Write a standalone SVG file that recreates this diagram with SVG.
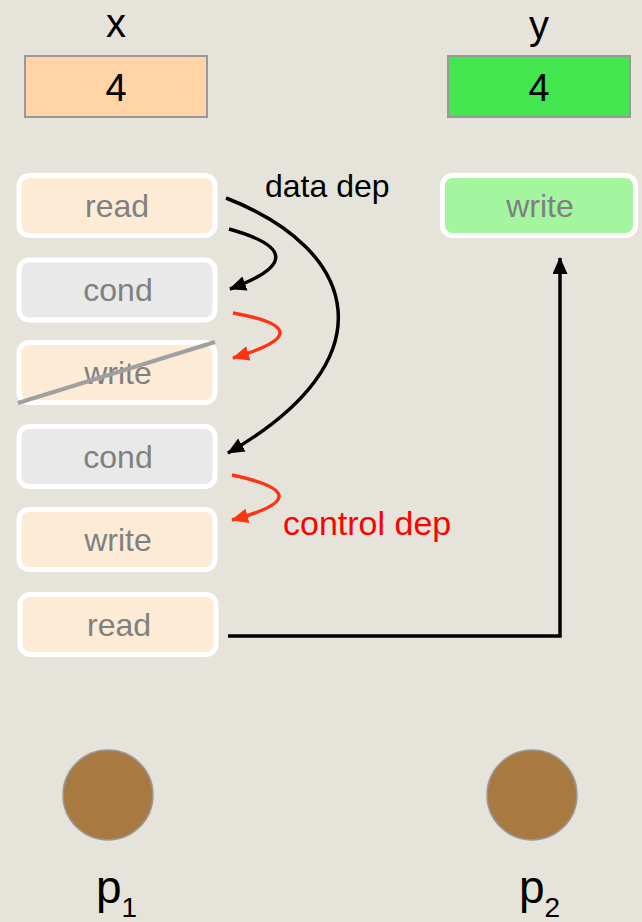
<svg xmlns="http://www.w3.org/2000/svg" width="642" height="922" viewBox="0 0 642 922">
  <style>
    .lbl { font-family: "Liberation Sans", "DejaVu Sans", sans-serif; text-anchor: middle; }
    .var { font-size: 40px; fill: #000; }
    .val { font-size: 38px; fill: #000; }
    .op { font-size: 32px; fill: #808080; }
    .box { stroke: #ffffff; stroke-width: 5; }
    .peach { fill: #fdebd5; }
    .grey { fill: #e9e9e9; }
    .dep { fill: none; stroke-width: 3.5; }
    .blk { stroke: #000; }
    .red { stroke: #ff3311; }
    .proc { fill: #a87941; stroke: #999; stroke-width: 1.5; }
    .note { font-family: "Liberation Sans", "DejaVu Sans", sans-serif; }
  </style>
  <defs>
    <marker id="ahB" markerUnits="userSpaceOnUse" markerWidth="18" markerHeight="16" refX="16" refY="7.5" orient="auto">
      <path d="M0,0 L17,7.5 L0,15 z" fill="#000"/>
    </marker>
    <marker id="ahR" markerUnits="userSpaceOnUse" markerWidth="18" markerHeight="16" refX="16" refY="7.5" orient="auto">
      <path d="M0,0 L17,7.5 L0,15 z" fill="#ff3311"/>
    </marker>
  </defs>

  <rect width="642" height="922" fill="#e6e3db"/>

  <!-- shared variables -->
  <g id="var-x">
    <text class="lbl var" x="116" y="37">x</text>
    <rect x="25" y="56" width="182" height="61" fill="#ffd5a8" stroke="#999" stroke-width="2"/>
    <text class="lbl val" x="116" y="101">4</text>
  </g>
  <g id="var-y">
    <text class="lbl var" x="539" y="39">y</text>
    <rect x="448" y="56" width="182" height="61" fill="#44e64f" stroke="#999" stroke-width="2"/>
    <text class="lbl val" x="539" y="101">4</text>
  </g>

  <!-- thread p1 operations -->
  <g id="p1-read1">
    <rect class="box peach" x="19" y="175.5" width="196" height="60" rx="10"/>
    <text class="lbl op" x="117" y="217">read</text>
  </g>
  <g id="p1-cond1">
    <rect class="box grey" x="19" y="260" width="196" height="60" rx="10"/>
    <text class="lbl op" x="118" y="301">cond</text>
  </g>
  <g id="p1-write1">
    <rect class="box peach" x="19" y="342.5" width="196" height="60" rx="10"/>
    <text class="lbl op" x="118" y="384">write</text>
    <line x1="18" y1="403" x2="215" y2="342" stroke="#a0a0a0" stroke-width="4"/>
  </g>
  <g id="p1-cond2">
    <rect class="box grey" x="19" y="426.5" width="196" height="60" rx="10"/>
    <text class="lbl op" x="118" y="468">cond</text>
  </g>
  <g id="p1-write2">
    <rect class="box peach" x="19" y="509.5" width="196" height="60" rx="10"/>
    <text class="lbl op" x="118" y="551">write</text>
  </g>
  <g id="p1-read2">
    <rect class="box peach" x="20" y="594.5" width="196" height="60" rx="10"/>
    <text class="lbl op" x="119" y="636">read</text>
  </g>

  <!-- thread p2 operation -->
  <g id="p2-write">
    <rect class="box" fill="#a3f5a0" x="442.5" y="175.5" width="193" height="60" rx="10"/>
    <text class="lbl op" x="540" y="217">write</text>
  </g>

  <!-- dependency and ordering edges -->
  <g id="connectors">
    <path class="dep blk" d="M229,229 Q322,255 230,289" marker-end="url(#ahB)"/>
    <path class="dep blk" d="M226,198 C360,250 390,360 228,453" marker-end="url(#ahB)"/>
    <path class="dep red" d="M233,313 Q327,330 233,358" marker-end="url(#ahR)"/>
    <path class="dep red" d="M232,475 Q326,495 232,520" marker-end="url(#ahR)"/>
    <path class="dep blk" d="M228,636 H560 V258" marker-end="url(#ahB)"/>
  </g>

  <g id="dep-labels">
    <text class="note" x="265" y="197" font-size="32" fill="#000">data dep</text>
    <text class="note" x="283" y="535" font-size="34" fill="#ff0000">control dep</text>
  </g>

  <!-- processors -->
  <g id="proc-p1">
    <circle class="proc" cx="108" cy="795" r="45"/>
    <text class="note" fill="#000" x="96" y="903" font-size="46">p<tspan font-size="28" dy="14">1</tspan></text>
  </g>
  <g id="proc-p2">
    <circle class="proc" cx="532" cy="795" r="45"/>
    <text class="note" fill="#000" x="519" y="903" font-size="46">p<tspan font-size="28" dy="14">2</tspan></text>
  </g>
</svg>
